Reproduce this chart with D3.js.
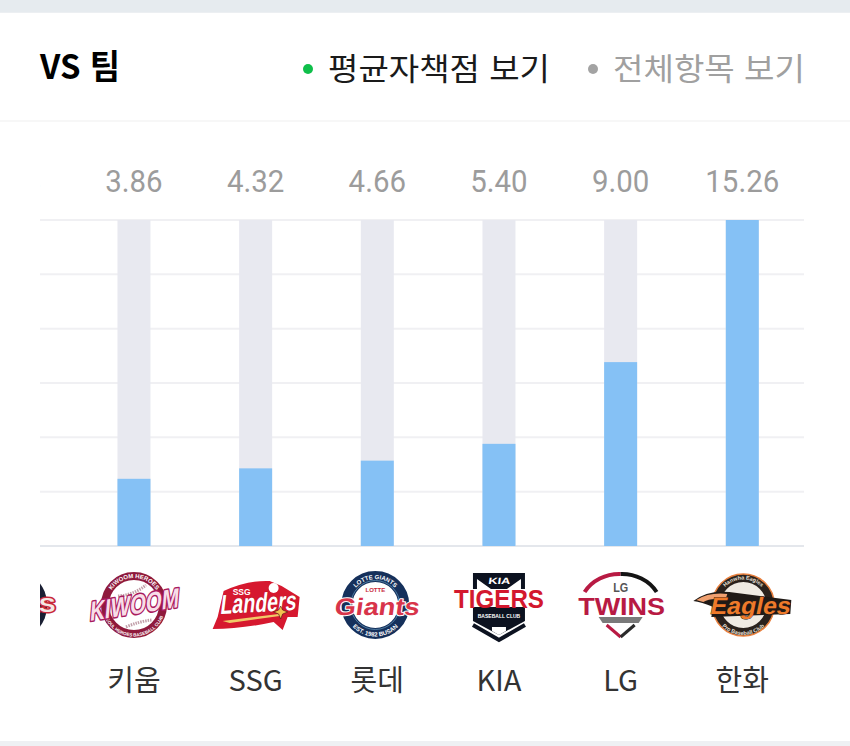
<!DOCTYPE html>
<html lang="ko"><head><meta charset="utf-8">
<script src="https://cdn.jsdelivr.net/npm/d3@7"></script>
<style>html,body{margin:0;padding:0;background:#fff}svg{display:block}</style></head>
<body><svg id="c" width="850" height="746"></svg>
<script>
const teams=["두산","키움","SSG","롯데","KIA","LG","한화"];
const eraValues=[3.38,3.86,4.32,4.66,5.40,9.00,15.26];
const logoKeys=["bears","kiwoom","landers","giants","tigers","twins","eagles"];
const gridValues=[0.9,3.29,5.69,8.08,10.47,12.87,15.26];
const titleText="VS 팀";
const legendItems=[{label:"평균자책점 보기",dot:"#0fbf4a",color:"#1a1a1a"},{label:"전체항목 보기",dot:"#a3a3a3",color:"#a0a0a0"}];

const KR='"Noto Sans CJK KR","Noto Sans",sans-serif';
const SANS="'Liberation Sans',sans-serif";
const svg=d3.select("#c");
const x=d3.scalePoint().domain(teams).range([12.3,742.3]);
const y=d3.scaleLinear().domain([0.9,15.26]).range([546,220]);
const barW=33;

svg.append("rect").attr("width",850).attr("height",12).attr("fill","#e6ebef");
svg.append("rect").attr("y",12).attr("width",850).attr("height",1).attr("fill","#eceff2");
svg.append("rect").attr("y",741).attr("width",850).attr("height",5).attr("fill","#eef0f3");
svg.append("rect").attr("y",120.5).attr("width",850).attr("height",1).attr("fill","#f0f0f0");

svg.append("text").text(titleText).attr("x",40).attr("y",79).attr("font-family",KR).attr("font-weight",700)
  .attr("font-size",34).attr("fill","#000").attr("textLength",80).attr("lengthAdjust","spacingAndGlyphs");
const lg=[{dx:308,tx:328,w:222},{dx:593,tx:613,w:192}];
legendItems.forEach((d,i)=>{
  svg.append("circle").attr("cx",lg[i].dx).attr("cy",69).attr("r",5).attr("fill",d.dot);
  svg.append("text").text(d.label).attr("x",lg[i].tx).attr("y",80).attr("font-family",KR).attr("font-size",31)
    .attr("fill",d.color).attr("textLength",lg[i].w).attr("lengthAdjust","spacingAndGlyphs");
});

const defs=svg.append("defs");
defs.append("clipPath").attr("id","plot").append("rect").attr("x",40).attr("y",130).attr("width",764).attr("height",600);
const g=svg.append("g").attr("clip-path","url(#plot)");

g.selectAll(".grid").data(gridValues).join("line").attr("class","grid")
  .attr("x1",40).attr("x2",804).attr("y1",d=>y(d)).attr("y2",d=>y(d))
  .attr("stroke",(d,i)=>i==0?"#e4e7ec":"#f0f0f3").attr("stroke-width",2);

g.selectAll(".bg").data(teams).join("rect").attr("class","bg")
  .attr("x",d=>x(d)-barW/2).attr("width",barW).attr("y",y.range()[1]).attr("height",y.range()[0]-y.range()[1]).attr("fill","#e8e9f0");
g.selectAll(".bar").data(teams).join("rect").attr("class","bar")
  .attr("x",d=>x(d)-barW/2).attr("width",barW)
  .attr("y",(d,i)=>y(eraValues[i])).attr("height",(d,i)=>y.range()[0]-y(eraValues[i])).attr("fill","#85c1f5");

g.selectAll(".val").data(teams).join("text").attr("class","val")
  .attr("transform",d=>`translate(${x(d)},192) scale(.95,1)`).attr("text-anchor","middle")
  .attr("font-family","Roboto,'Noto Sans',sans-serif").attr("font-size",31)
  .attr("fill","#9c9c9c").text((d,i)=>eraValues[i].toFixed(2));
g.selectAll(".name").data(teams).join("text").attr("class","name")
  .attr("x",d=>x(d)).attr("y",691).attr("text-anchor","middle").attr("font-family",KR).attr("font-size",29)
  .attr("fill","#333").text(d=>d);

function word(p,t,cx,cy,w,size,fill,stroke,sw,skew,rot){
  const a=p.append("text").text(t).attr("text-anchor","middle").attr("font-family",SANS)
    .attr("font-weight",700).attr("font-size",size).attr("fill",fill)
    .attr("transform",`translate(${cx},${cy}) rotate(${rot||0}) skewX(${skew||0})`)
    .attr("textLength",w).attr("lengthAdjust","spacingAndGlyphs");
  if(stroke)a.attr("stroke",stroke).attr("stroke-width",sw).attr("paint-order","stroke").attr("stroke-linejoin","round");
  return a;
}
let arcId=0;
function arcText(p,t,r,top,size,fill){
  const id="arc"+(arcId++);
  p.append("path").attr("id",id).attr("fill","none")
    .attr("d",`M${-r},0 A${r},${r} 0 0 ${top?1:0} ${r},0`);
  p.append("text").attr("font-family",SANS).attr("font-weight",700).attr("font-size",size).attr("fill",fill)
    .append("textPath").attr("href","#"+id).attr("startOffset","50%").attr("text-anchor","middle").text(t);
}
const drawLogo={
  bears(l){
    l.append("circle").attr("r",35).attr("fill","#1a1f33");
    word(l,"BEARS",0,7,86,20,"#f4e8e6","#c8283a",3);
  },
  kiwoom(l){
    l.append("circle").attr("r",29).attr("fill","#fff").attr("stroke","#8f1a3c").attr("stroke-width",8);
    l.append("path").attr("d","M-16,-9 Q0,-10 12,-20 M-8,22 Q6,16 18,15").attr("fill","none").attr("stroke","#c2a0aa").attr("stroke-width",3).attr("stroke-dasharray","1.5 1");
    arcText(l,"KIWOOM HEROES",27,true,6,"#fff");
    arcText(l,"SEOUL HEROES BASEBALL CLUB",31.5,false,4.5,"#fff");
    word(l,"KIWOOM",0,9,90,27,"#f8dde8","#a81c5e",3,-14,-9);
  },
  landers(l){
    l.append("path").attr("d","M-32,-14 Q-8,-25 14,-24 L26,-19 L44,-8 L42,12 L32,12 L27,25 L18,17 Q-14,24 -43,24 L-38,12 Z").attr("fill","#d6182f");
    l.append("circle").attr("cx",18).attr("cy",-17).attr("r",5).attr("fill","#fff");
    word(l,"SSG",-14,-10,18,9,"#fff");
    word(l,"Landers",2,7,76,27,"#fff","#a80f22",.6,-10,-3);
    l.append("path").attr("d","M-33,16 L23,9 L24,11 L-26,18 Z").attr("fill","#f0c968");
    l.append("path").attr("d","M25,1 L27,5 L32,7 L27,9 L25,14 L23,9 L18,7 L23,5 Z").attr("fill","#f2c04f").attr("stroke","#4a1015").attr("stroke-width",.6);
  },
  giants(l){
    const c=l.append("g").attr("transform","translate(-2,0)");
    c.append("circle").attr("r",28.5).attr("fill","#fff").attr("stroke","#15305b").attr("stroke-width",11);
    c.append("circle").attr("r",24.5).attr("fill","none").attr("stroke","#4f7da3").attr("stroke-width",1);
    arcText(c,"LOTTE GIANTS",26,true,6,"#fff");
    arcText(c,"EST. 1982 BUSAN",31.5,false,6,"#fff");
    c.append("text").text("LOTTE").attr("y",-13).attr("text-anchor","middle").attr("font-family",SANS).attr("font-weight",700).attr("font-size",6).attr("fill","#c8283a");
    word(c,"Giants",1,10,85,24,"#d8344a","#fff",2,-8);
  },
  tigers(l){
    l.append("path").attr("d","M-26,-32 L26,-32 L26,-16 L-26,-16 Z").attr("fill","#0c1220");
    l.append("path").attr("d","M-22,-26 L-22,-16 L-8,-16 Z M22,-26 L22,-16 L8,-16 Z").attr("fill","#fff");
    word(l,"KIA",0,-21,22,9,"#fff",null,0,-8);
    l.append("path").attr("d","M-26,2 L26,2 L26,16 L0,30 L-26,16 Z").attr("fill","#0c1220");
    l.append("path").attr("d","M-26,20 L0,35 L26,20").attr("fill","none").attr("stroke","#0c1220").attr("stroke-width",4);
    l.append("path").attr("d","M-7,22 L7,22 L7,26 L0,30 L-7,26 Z").attr("fill","#fff");
    word(l,"TIGERS",0,3,90,26,"#d3182e");
    l.append("text").text("BASEBALL CLUB").attr("y",13).attr("text-anchor","middle").attr("font-family",SANS).attr("font-weight",700).attr("font-size",5).attr("fill","#fff");
  },
  twins(l){
    l.append("path").attr("d","M-36,-13 A40,36 0 0 1 0,-31").attr("fill","none").attr("stroke","#b81a43").attr("stroke-width",4);
    l.append("path").attr("d","M0,-31 A40,36 0 0 1 36,-13").attr("fill","none").attr("stroke","#141414").attr("stroke-width",4);
    word(l,"LG",0,-13.5,15,12,"#555");
    word(l,"TWINS",1,10,87,23,"#b81a43");
    l.append("path").attr("d","M-22,12 L22,12 L18,18 L-18,18 Z").attr("fill","#7a7a7a");
    l.append("path").attr("d","M-14,20 L0,32").attr("stroke","#b81a43").attr("stroke-width",3);
    l.append("path").attr("d","M0,32 L14,20").attr("stroke","#2a2a2a").attr("stroke-width",3);
  },
  eagles(l){
    const c=l.append("g").attr("transform","translate(1,0)");
    c.append("circle").attr("r",27).attr("fill","#f0ebe3").attr("stroke","#2a221d").attr("stroke-width",8);
    c.append("circle").attr("r",31).attr("fill","none").attr("stroke","#e8803f").attr("stroke-width",1.5);
    arcText(c,"Hanwha Eagles",25.5,true,5.5,"#e8e0d8");
    arcText(c,"Pro Baseball Club",30,false,5.5,"#e8e0d8");
    c.append("path").attr("d","M-50,-4 Q-36,-15 -14,-13 L48,-5 L47,9 L-32,12 L-30,2 Q-42,-3 -50,-4 Z").attr("fill","#201a16");
    c.append("path").attr("d","M-47,-5 Q-34,-13 -16,-11 L-18,-5 Q-32,-8 -40,-3 Z").attr("fill","#f0a070");
    word(c,"Eagles",6,9,80,24,"#ee7a2a","#201a16",.8,-12);
  }
};
g.selectAll(".logo").data(teams).join("g").attr("class","logo")
  .attr("transform",d=>`translate(${x(d)},605)`)
  .each(function(d,i){drawLogo[logoKeys[i]](d3.select(this));});
</script></body></html>
